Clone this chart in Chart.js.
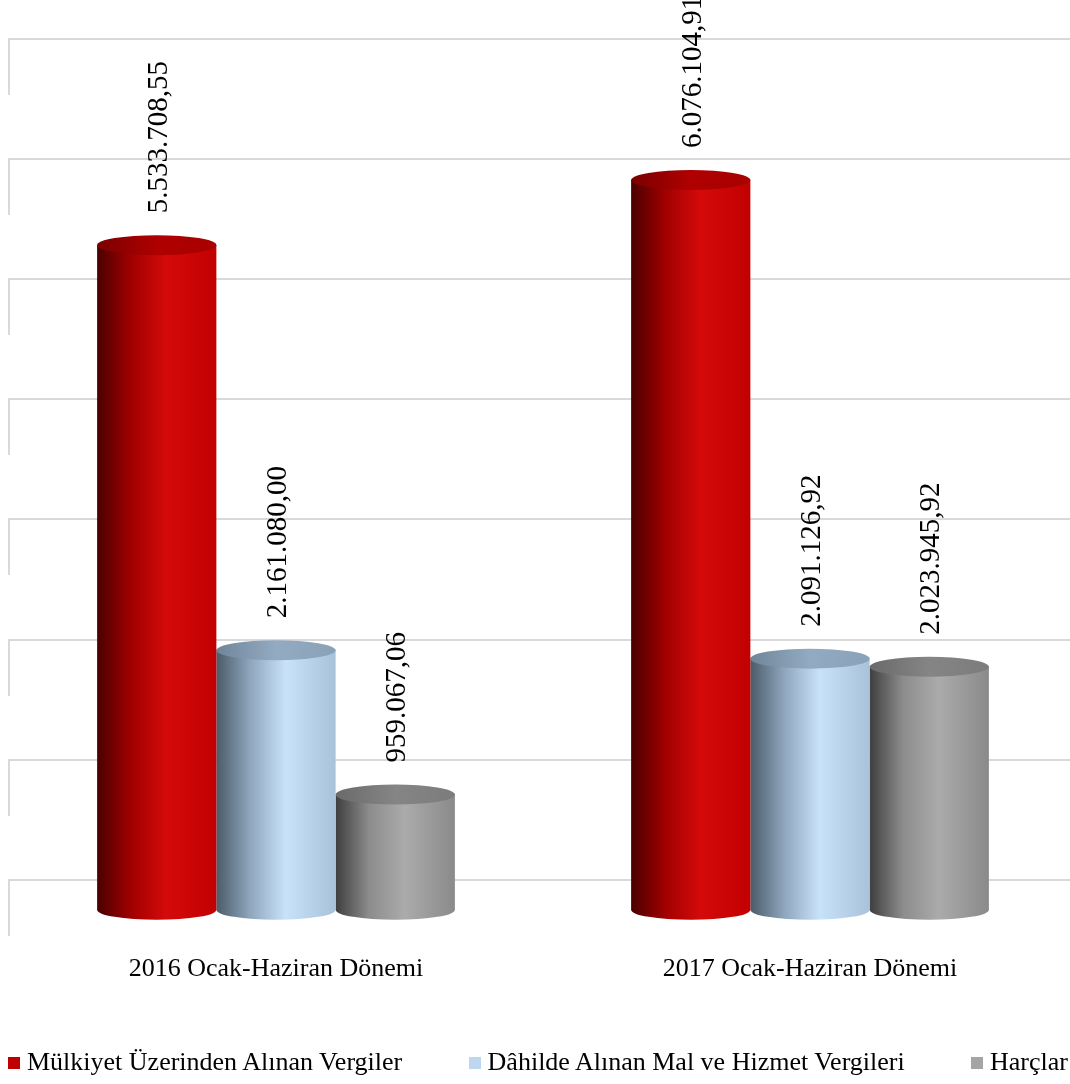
<!DOCTYPE html>
<html>
<head>
<meta charset="utf-8">
<script src="https://cdn.jsdelivr.net/npm/chart.js@4.4.1/dist/chart.umd.min.js"></script>
<style>
html, body { margin: 0; padding: 0; background: #fff; overflow: hidden; }
#wrap { position: relative; width: 1080px; height: 1084px; }
#chart { position: absolute; left: 0; top: 0; }
#legend {
    position: absolute; left: 8px; top: 1047px; width: 1060px;
    display: flex; justify-content: space-between;
    font: 26px "Liberation Serif", "Times New Roman", serif; line-height: 30px; color: #000;
}
#legend span.box { display: inline-block; width: 12px; height: 12px; margin-right: 7px; vertical-align: 1px; }
</style>
</head>
<body>
<div id="wrap">
    <canvas id="chart" width="1080" height="1084"></canvas>
    <div id="legend"></div>
</div>
<script>
// data
var categories = ["2016 Ocak-Haziran Dönemi", "2017 Ocak-Haziran Dönemi"];
var seriesNames = ["Mülkiyet Üzerinden Alınan Vergiler", "Dâhilde Alınan Mal ve Hizmet Vergileri", "Harçlar"];
var mulkiyet = [5533708.55, 6076104.91];
var dahilde = [2161080.00, 2091126.92];
var harclar = [959067.06, 2023945.92];
var gridValues = [0, 1000000, 2000000, 3000000, 4000000, 5000000, 6000000, 7000000];

var legendColors = ["#c00000", "#bdd7ee", "#a5a5a5"];
// gradient stops for the cylinder body (left -> right) and top face
var bodyStops = [
    ["#4a0000", "#a00000", "#d40a0a", "#c20000"],
    ["#4b5b69", "#8ea5bc", "#c8e2fa", "#a8c2da"],
    ["#3f3f3f", "#8c8c8c", "#ababab", "#8a8a8a"]
];
var topColors = [
    ["#7a0000", "#b00000", "#a80000"],
    ["#6f8599", "#93abc2", "#8aa2b8"],
    ["#6a6a6a", "#858585", "#7c7c7c"]
];

var DEPTH = 30;   // 3D wall offset
var RY = 10;      // ellipse half height

function formatTr(v) {
    var parts = v.toFixed(2).split(".");
    var intPart = parts[0].replace(/\B(?=(\d{3})+(?!\d))/g, ".");
    return intPart + "," + parts[1];
}

// back wall grid lines
var wallPlugin = {
    id: 'wall',
    beforeDatasetsDraw: function (chart) {
        var ctx = chart.ctx, area = chart.chartArea, y = chart.scales.y;
        ctx.save();
        ctx.strokeStyle = "#d9d9d9";
        ctx.lineWidth = 2;
        gridValues.forEach(function (v) {
            var py = Math.round(y.getPixelForValue(v) - DEPTH);
            ctx.beginPath();
            ctx.moveTo(area.left, py + 56);
            ctx.lineTo(area.left, py);
            ctx.lineTo(area.right, py);
            ctx.stroke();
        });
        ctx.restore();
    }
};

// cylinders instead of flat bars
var cylinderPlugin = {
    id: 'cylinder',
    beforeDatasetDraw: function (chart, args) {
        var ctx = chart.ctx, i = args.index;
        var meta = chart.getDatasetMeta(i);
        meta.data.forEach(function (bar) {
            var p = bar.getProps(['x', 'y', 'base', 'width'], true);
            var rx = p.width / 2, left = p.x - rx, right = p.x + rx;

            var g = ctx.createLinearGradient(left, 0, right, 0);
            g.addColorStop(0, bodyStops[i][0]);
            g.addColorStop(0.28, bodyStops[i][1]);
            g.addColorStop(0.58, bodyStops[i][2]);
            g.addColorStop(1, bodyStops[i][3]);

            ctx.save();
            ctx.beginPath();
            ctx.moveTo(left, p.y);
            ctx.lineTo(left, p.base);
            ctx.ellipse(p.x, p.base, rx, RY, 0, Math.PI, 0, true);
            ctx.lineTo(right, p.y);
            ctx.closePath();
            ctx.fillStyle = g;
            ctx.fill();

            var tg = ctx.createLinearGradient(left, 0, right, 0);
            tg.addColorStop(0, topColors[i][0]);
            tg.addColorStop(0.5, topColors[i][1]);
            tg.addColorStop(1, topColors[i][2]);
            ctx.beginPath();
            ctx.ellipse(p.x, p.y, rx, RY, 0, 0, Math.PI * 2);
            ctx.fillStyle = tg;
            ctx.fill();
            ctx.restore();
        });
        return false;
    }
};

// vertical value labels
var labelPlugin = {
    id: 'vlabels',
    afterDatasetsDraw: function (chart) {
        var ctx = chart.ctx;
        ctx.save();
        ctx.font = '29px "Liberation Serif", "Times New Roman", serif';
        ctx.fillStyle = "#000";
        ctx.textAlign = "left";
        ctx.textBaseline = "alphabetic";
        chart.data.datasets.forEach(function (ds, i) {
            chart.getDatasetMeta(i).data.forEach(function (bar, j) {
                ctx.save();
                ctx.translate(bar.x, bar.y - RY - 22);
                ctx.rotate(-Math.PI / 2);
                ctx.fillText(formatTr(ds.data[j]), 0, 10);
                ctx.restore();
            });
        });
        ctx.restore();
    }
};

var seriesData = [mulkiyet, dahilde, harclar];
var datasets = seriesNames.map(function (name, i) {
    return {
        label: name,
        data: seriesData[i],
        backgroundColor: legendColors[i],
        categoryPercentage: 0.67,
        barPercentage: 1.0
    };
});

var chart = new Chart(document.getElementById("chart").getContext("2d"), {
    type: "bar",
    data: { labels: categories, datasets: datasets },
    options: {
        responsive: false,
        animation: false,
        layout: { padding: { left: 9, right: 3, top: 39, bottom: 63 } },
        plugins: {
            legend: { display: false },
            tooltip: { enabled: false }
        },
        scales: {
            x: {
                grid: { display: false },
                border: { display: false },
                ticks: {
                    color: "#000",
                    padding: 36,
                    font: { family: '"Liberation Serif", "Times New Roman", serif', size: 26 }
                }
            },
            y: {
                display: false,
                min: 0,
                max: 7250000
            }
        }
    },
    plugins: [wallPlugin, cylinderPlugin, labelPlugin]
});

// html legend
var legendEl = document.getElementById("legend");
seriesNames.forEach(function (name, i) {
    var item = document.createElement("div");
    item.innerHTML = '<span class="box" style="background:' + legendColors[i] + '"></span>' + name;
    legendEl.appendChild(item);
});
</script>
</body>
</html>
